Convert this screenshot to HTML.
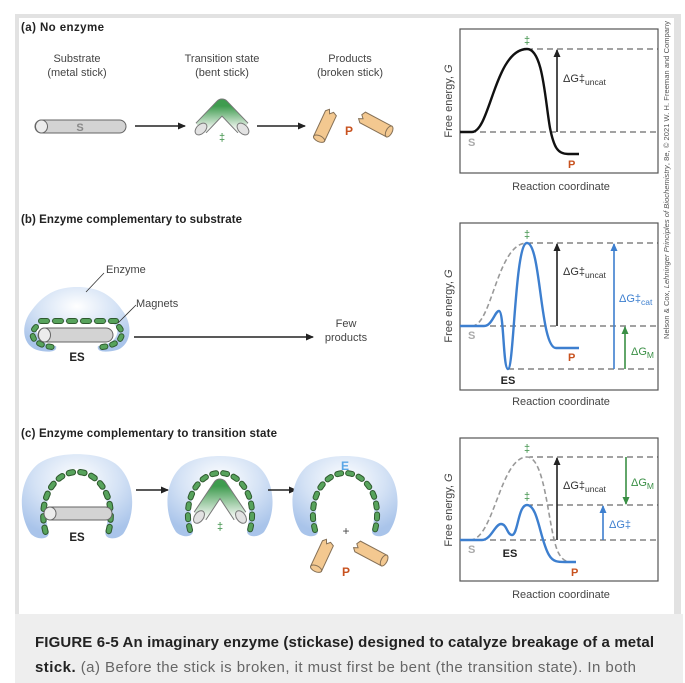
<!DOCTYPE html>
<html><head><meta charset="utf-8"><style>
html,body{margin:0;padding:0;background:#fff;}
svg{display:block;}
text{font-family:"Liberation Sans",sans-serif;}
</style></head><body>
<svg width="685" height="683" viewBox="0 0 685 683" xmlns="http://www.w3.org/2000/svg">
<defs>
<radialGradient id="enz" cx="0.5" cy="0.3" r="0.7">
<stop offset="0" stop-color="#ffffff"/><stop offset="0.55" stop-color="#d4e2f5"/><stop offset="1" stop-color="#a9c4ea"/>
</radialGradient>
<linearGradient id="ts" x1="0" y1="0" x2="0" y2="1">
<stop offset="0" stop-color="#3f9c4f"/><stop offset="1" stop-color="#eef4ee"/>
</linearGradient>
<marker id="ak" markerWidth="8" markerHeight="8" refX="7" refY="4" orient="auto" markerUnits="userSpaceOnUse"><path d="M0,0.5 L8,4 L0,7.5 Z" fill="#222"/></marker>
<marker id="ab" markerWidth="8" markerHeight="8" refX="7" refY="4" orient="auto" markerUnits="userSpaceOnUse"><path d="M0,0.5 L8,4 L0,7.5 Z" fill="#3d7fcf"/></marker>
<marker id="ag" markerWidth="8" markerHeight="8" refX="7" refY="4" orient="auto" markerUnits="userSpaceOnUse"><path d="M0,0.5 L8,4 L0,7.5 Z" fill="#3a8f45"/></marker>
<g id="enzC">
<path d="M-44,38 C-56,20 -56,-10 -40,-26 C-25,-42 25,-42 40,-26 C56,-10 56,20 44,38 C38,44 26,44 27,36 C34,10 24,-22 0,-24 C-24,-22 -34,10 -27,36 C-26,44 -38,44 -44,38 Z" fill="url(#enz)"/>
</g>
<g id="magC">
<path d="M-30,36 C-38,6 -22,-21 0,-21 C22,-21 38,6 30,36" fill="none" stroke="#2f5a2f" stroke-width="6" stroke-dasharray="4 7" stroke-linecap="round"/>
<path d="M-30,36 C-38,6 -22,-21 0,-21 C22,-21 38,6 30,36" fill="none" stroke="#57a35c" stroke-width="4" stroke-dasharray="4 7" stroke-linecap="round"/>
</g>
</defs>

<!-- frame -->
<rect x="15" y="14" width="666" height="600" fill="#e2e2e2"/>
<rect x="19" y="18" width="655" height="596" fill="#fff"/>
<rect x="15" y="614" width="668" height="69" fill="#eeeeee"/>

<!-- (a) -->
<text x="21" y="31" font-size="11.5" font-weight="bold" fill="#222" textLength="83">(a)  No enzyme</text>
<g font-size="11" fill="#444" text-anchor="middle">
<text x="77" y="62">Substrate</text><text x="77" y="76">(metal stick)</text>
<text x="222" y="62">Transition state</text><text x="222" y="76">(bent stick)</text>
<text x="350" y="62">Products</text><text x="350" y="76">(broken stick)</text>
</g>
<rect x="35" y="120" width="91" height="13" rx="6.5" fill="#d3d3d3" stroke="#666" stroke-width="1"/>
<ellipse cx="41.5" cy="126.5" rx="6" ry="6.5" fill="#ececec" stroke="#666" stroke-width="1"/>
<text x="80" y="131" font-size="11" font-weight="bold" fill="#888" text-anchor="middle">S</text>
<line x1="135" y1="126" x2="185" y2="126" stroke="#222" stroke-width="1.5" marker-end="url(#ak)"/>
<path d="M201,128 L222,106 L243,128" fill="none" stroke="#777" stroke-width="15" stroke-linejoin="round"/>
<path d="M201,128 L222,106 L243,128" fill="none" stroke="url(#ts)" stroke-width="13" stroke-linejoin="round"/>
<ellipse cx="201" cy="129" rx="7" ry="4.5" transform="rotate(-45 201 129)" fill="#e2e2e2" stroke="#777"/>
<ellipse cx="243" cy="129" rx="7" ry="4.5" transform="rotate(45 243 129)" fill="#e2e2e2" stroke="#777"/>
<text x="222" y="141" font-size="11" fill="#3a8f45" text-anchor="middle">‡</text>
<line x1="257" y1="126" x2="305" y2="126" stroke="#222" stroke-width="1.5" marker-end="url(#ak)"/>
<g transform="rotate(25 325 126)"><path d="M319,112 L322,109 L324,113 L327,110 L331,112 L331,140 L319,140 Z" fill="#f3c890" stroke="#857056"/><ellipse cx="325" cy="140" rx="6" ry="3" fill="#f3c890" stroke="#857056"/></g>
<g transform="rotate(-62 375 124)"><path d="M369,110 L372,107 L374,111 L377,108 L381,110 L381,140 L369,140 Z" fill="#f3c890" stroke="#857056"/><ellipse cx="375" cy="140" rx="6" ry="3" fill="#f3c890" stroke="#857056"/></g>
<text x="349" y="135" font-size="12" font-weight="bold" fill="#c8521f" text-anchor="middle">P</text>

<!-- (b) -->
<text x="21" y="223" font-size="11.5" font-weight="bold" fill="#222" textLength="221">(b)  Enzyme complementary to substrate</text>
<path d="M37,350 C22,345 20,325 32,310 C45,292 60,287 77,287 C94,287 110,292 122,310 C134,325 131,345 117,350 C105,353 96,352 98,346 C120,344 122,326 110,322 L44,322 C32,326 34,344 56,346 C58,352 48,353 37,350 Z" fill="url(#enz)"/>
<path d="M41,321 L116,321" fill="none" stroke="#2f5a2f" stroke-width="6" stroke-dasharray="6 8" stroke-linecap="round"/>
<path d="M41,321 L116,321" fill="none" stroke="#57a35c" stroke-width="4" stroke-dasharray="6 8" stroke-linecap="round"/>
<path d="M36,327 C28,335 34,345 52,347 M119,327 C126,335 120,345 102,347" fill="none" stroke="#2f5a2f" stroke-width="6" stroke-dasharray="3 7" stroke-linecap="round"/>
<path d="M36,327 C28,335 34,345 52,347 M119,327 C126,335 120,345 102,347" fill="none" stroke="#57a35c" stroke-width="4" stroke-dasharray="3 7" stroke-linecap="round"/>
<rect x="38" y="328" width="75" height="14" rx="7" fill="#d3d3d3" stroke="#666"/>
<ellipse cx="44.5" cy="335" rx="6" ry="7" fill="#ececec" stroke="#666"/>
<text x="77" y="361" font-size="11.5" font-weight="bold" fill="#222" text-anchor="middle">ES</text>
<line x1="86" y1="292" x2="104" y2="273" stroke="#333" stroke-width="0.8"/>
<text x="106" y="273" font-size="11" fill="#444">Enzyme</text>
<line x1="118" y1="323" x2="136" y2="305" stroke="#333" stroke-width="0.8"/>
<text x="136" y="307" font-size="11" fill="#444">Magnets</text>
<line x1="134" y1="337" x2="313" y2="337" stroke="#222" stroke-width="1.5" marker-end="url(#ak)"/>
<text x="346" y="327" font-size="11" fill="#444" text-anchor="middle">Few</text>
<text x="346" y="341" font-size="11" fill="#444" text-anchor="middle">products</text>

<!-- (c) -->
<text x="21" y="437" font-size="11.5" font-weight="bold" fill="#222" textLength="256">(c)  Enzyme complementary to transition state</text>
<use href="#enzC" transform="translate(77,494) scale(1.05)"/>
<use href="#magC" transform="translate(77,494) scale(1.05)"/>
<rect x="44" y="507" width="68" height="13" rx="6.5" fill="#d3d3d3" stroke="#666"/>
<ellipse cx="50" cy="513.5" rx="6" ry="6.5" fill="#ececec" stroke="#666"/>
<text x="77" y="541" font-size="11.5" font-weight="bold" fill="#222" text-anchor="middle">ES</text>
<line x1="136" y1="490" x2="168" y2="490" stroke="#222" stroke-width="1.5" marker-end="url(#ak)"/>
<use href="#enzC" transform="translate(220,494) scale(1.0)"/>
<use href="#magC" transform="translate(220,494) scale(1.0)"/>
<path d="M200,516 L220,486 L240,516" fill="none" stroke="#777" stroke-width="15" stroke-linejoin="round"/>
<path d="M200,516 L220,486 L240,516" fill="none" stroke="url(#ts)" stroke-width="13" stroke-linejoin="round"/>
<ellipse cx="199" cy="517" rx="7" ry="4.5" transform="rotate(-55 199 517)" fill="#e2e2e2" stroke="#777"/>
<ellipse cx="241" cy="517" rx="7" ry="4.5" transform="rotate(55 241 517)" fill="#e2e2e2" stroke="#777"/>
<text x="220" y="530" font-size="11" fill="#3a8f45" text-anchor="middle">‡</text>
<line x1="268" y1="490" x2="296" y2="490" stroke="#222" stroke-width="1.5" marker-end="url(#ak)"/>
<use href="#enzC" transform="translate(345,494) scale(1.0)"/>
<use href="#magC" transform="translate(345,494) scale(1.0)"/>
<text x="345" y="470" font-size="12" font-weight="bold" fill="#5aa6e6" text-anchor="middle">E</text>
<text x="346" y="535" font-size="12" fill="#444" text-anchor="middle">+</text>
<g transform="rotate(25 322 556)"><path d="M316,542 L319,539 L321,543 L324,540 L328,542 L328,570 L316,570 Z" fill="#f3c890" stroke="#857056"/><ellipse cx="322" cy="570" rx="6" ry="3" fill="#f3c890" stroke="#857056"/></g>
<g transform="rotate(-62 370 553)"><path d="M364,539 L367,536 L369,540 L372,537 L376,539 L376,569 L364,569 Z" fill="#f3c890" stroke="#857056"/><ellipse cx="370" cy="569" rx="6" ry="3" fill="#f3c890" stroke="#857056"/></g>
<text x="346" y="576" font-size="12" font-weight="bold" fill="#c8521f" text-anchor="middle">P</text>

<!-- chart a -->
<rect x="460" y="29" width="198" height="144" fill="none" stroke="#555" stroke-width="1.2"/>
<g stroke="#444" stroke-width="1" stroke-dasharray="6 4" fill="none">
<line x1="527" y1="49" x2="658" y2="49"/><line x1="460" y1="132" x2="658" y2="132"/>
</g>
<path d="M460,132 L472,132 C490,132 495,49 527,49 C543,49 545,100 550,128 C554,148 558,154 568,154 L579,154" fill="none" stroke="#111" stroke-width="2.4"/>
<line x1="557" y1="132" x2="557" y2="50" stroke="#222" stroke-width="1.6" marker-end="url(#ak)"/>
<text x="563" y="82" font-size="11" fill="#333">ΔG‡<tspan font-size="8.5" dy="3">uncat</tspan></text>
<text x="527" y="44" font-size="11" fill="#3a8f45" text-anchor="middle">‡</text>
<text x="468" y="146" font-size="11" font-weight="bold" fill="#aaa">S</text>
<text x="568" y="168" font-size="11" font-weight="bold" fill="#c8521f">P</text>
<text x="452" y="101" font-size="11" fill="#444" text-anchor="middle" transform="rotate(-90 452 101)">Free energy, <tspan font-style="italic">G</tspan></text>
<text x="561" y="190" font-size="11" fill="#444" text-anchor="middle">Reaction coordinate</text>

<!-- chart b -->
<rect x="460" y="223" width="198" height="167" fill="none" stroke="#555" stroke-width="1.2"/>
<g stroke="#444" stroke-width="1" stroke-dasharray="6 4" fill="none">
<line x1="527" y1="243" x2="658" y2="243"/><line x1="460" y1="326" x2="658" y2="326"/><line x1="508" y1="369" x2="658" y2="369"/>
</g>
<path d="M472,326 C492,326 497,243 527,243" fill="none" stroke="#999" stroke-width="1.6" stroke-dasharray="5 3"/>
<path d="M460,326 L484,326 C492,326 495,311 499,311 C504,311 503,369 508,369 C514,369 515,243 527,243 C541,243 540,348 556,348 L579,348" fill="none" stroke="#3d7fcf" stroke-width="2.4"/>
<line x1="557" y1="326" x2="557" y2="244" stroke="#222" stroke-width="1.6" marker-end="url(#ak)"/>
<line x1="614" y1="369" x2="614" y2="244" stroke="#3d7fcf" stroke-width="1.6" marker-end="url(#ab)"/>
<line x1="625" y1="369" x2="625" y2="327" stroke="#3a8f45" stroke-width="1.6" marker-end="url(#ag)"/>
<text x="563" y="275" font-size="11" fill="#333">ΔG‡<tspan font-size="8.5" dy="3">uncat</tspan></text>
<text x="619" y="302" font-size="11" fill="#3d7fcf">ΔG‡<tspan font-size="8.5" dy="3">cat</tspan></text>
<text x="631" y="355" font-size="11" fill="#3a8f45">ΔG<tspan font-size="8.5" dy="3">M</tspan></text>
<text x="527" y="238" font-size="11" fill="#3a8f45" text-anchor="middle">‡</text>
<text x="468" y="339" font-size="11" font-weight="bold" fill="#aaa">S</text>
<text x="568" y="361" font-size="11" font-weight="bold" fill="#c8521f">P</text>
<text x="508" y="384" font-size="11" font-weight="bold" fill="#222" text-anchor="middle">ES</text>
<text x="452" y="306" font-size="11" fill="#444" text-anchor="middle" transform="rotate(-90 452 306)">Free energy, <tspan font-style="italic">G</tspan></text>
<text x="561" y="405" font-size="11" fill="#444" text-anchor="middle">Reaction coordinate</text>

<!-- chart c -->
<rect x="460" y="438" width="198" height="143" fill="none" stroke="#555" stroke-width="1.2"/>
<g stroke="#444" stroke-width="1" stroke-dasharray="6 4" fill="none">
<line x1="527" y1="457" x2="658" y2="457"/><line x1="527" y1="505" x2="658" y2="505"/><line x1="460" y1="540" x2="658" y2="540"/>
</g>
<path d="M470,540 C494,540 500,457 527,457 C546,457 548,530 558,552 C562,560 566,562 572,562" fill="none" stroke="#999" stroke-width="1.6" stroke-dasharray="5 3"/>
<path d="M460,540 L482,540 C491,540 495,524 501,524 C507,524 507,535 512,535 C518,535 518,505 527,505 C538,505 540,540 549,555 C553,562 558,562 565,562 L576,562" fill="none" stroke="#3d7fcf" stroke-width="2.4"/>
<line x1="557" y1="540" x2="557" y2="458" stroke="#222" stroke-width="1.6" marker-end="url(#ak)"/>
<line x1="626" y1="457" x2="626" y2="504" stroke="#3a8f45" stroke-width="1.6" marker-end="url(#ag)"/>
<line x1="603" y1="540" x2="603" y2="506" stroke="#3d7fcf" stroke-width="1.6" marker-end="url(#ab)"/>
<text x="563" y="489" font-size="11" fill="#333">ΔG‡<tspan font-size="8.5" dy="3">uncat</tspan></text>
<text x="631" y="486" font-size="11" fill="#3a8f45">ΔG<tspan font-size="8.5" dy="3">M</tspan></text>
<text x="609" y="528" font-size="11" fill="#3d7fcf">ΔG‡</text>
<text x="527" y="452" font-size="11" fill="#3a8f45" text-anchor="middle">‡</text>
<text x="527" y="500" font-size="11" fill="#3a8f45" text-anchor="middle">‡</text>
<text x="468" y="553" font-size="11" font-weight="bold" fill="#aaa">S</text>
<text x="571" y="576" font-size="11" font-weight="bold" fill="#c8521f">P</text>
<text x="510" y="557" font-size="11" font-weight="bold" fill="#222" text-anchor="middle">ES</text>
<text x="452" y="510" font-size="11" fill="#444" text-anchor="middle" transform="rotate(-90 452 510)">Free energy, <tspan font-style="italic">G</tspan></text>
<text x="561" y="598" font-size="11" fill="#444" text-anchor="middle">Reaction coordinate</text>

<!-- copyright -->
<text x="669" y="180" font-size="7.5" fill="#555" text-anchor="middle" transform="rotate(-90 669 180)" textLength="318">Nelson &amp; Cox, <tspan font-style="italic">Lehninger Principles of Biochemistry</tspan>, 8e, © 2021 W. H. Freeman and Company</text>

<!-- caption -->
<text x="35" y="647" font-size="15" font-weight="bold" fill="#222" textLength="619">FIGURE 6-5 An imaginary enzyme (stickase) designed to catalyze breakage of a metal</text>
<text x="35" y="672" font-size="15" fill="#666" textLength="601"><tspan font-weight="bold" fill="#222">stick.</tspan> (a) Before the stick is broken, it must first be bent (the transition state). In both</text>
</svg>
</body></html>
